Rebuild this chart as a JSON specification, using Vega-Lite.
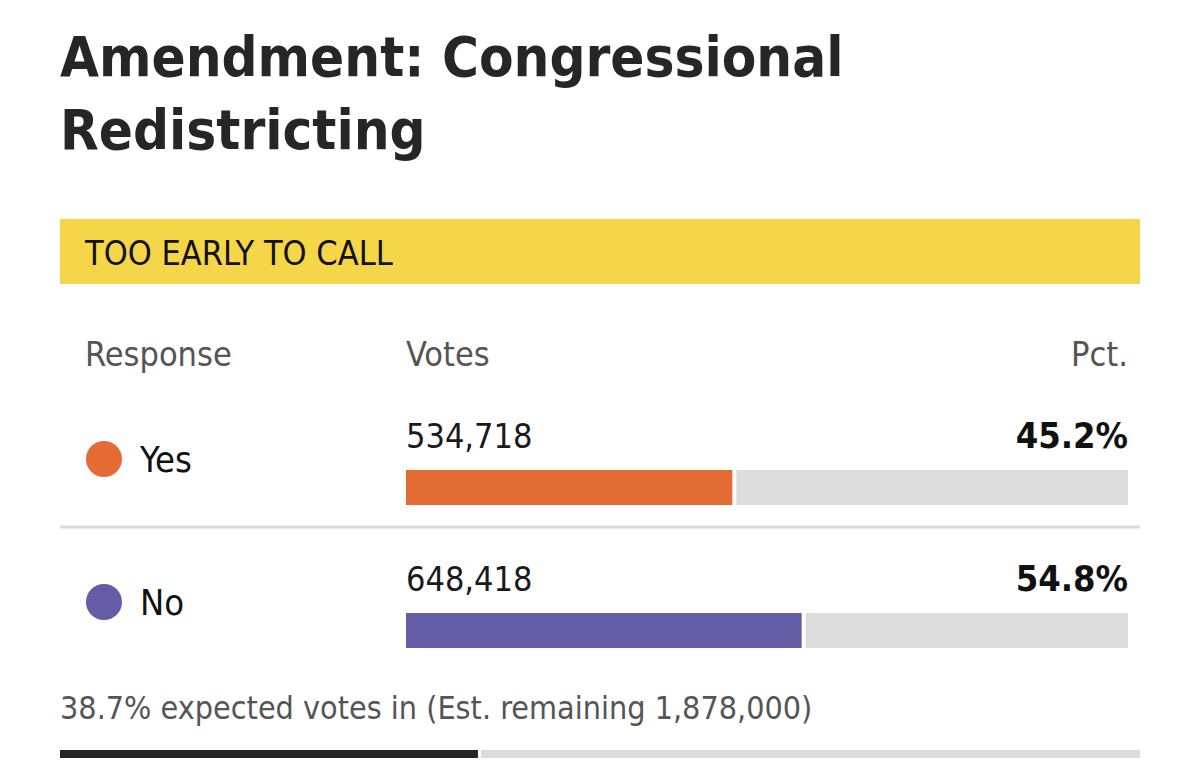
{
  "$schema": "https://vega.github.io/schema/vega-lite/v6.json",
  "padding": {"left": 60, "right": 60, "top": 30, "bottom": 20},
  "background": "white",
  "spacing": 0,
  "title": {
    "text": ["Amendment: Congressional", "Redistricting"],
    "anchor": "start",
    "frame": "group",
    "font": "Noto Sans ExtraCondensed, Liberation Sans Narrow, DejaVu Sans Condensed, sans-serif",
    "fontSize": 56,
    "fontWeight": "bold",
    "color": "#262626",
    "lineHeight": 73.5,
    "baseline": "alphabetic",
    "offset": 14
  },
  "datasets": {
    "status": [{"status": "TOO EARLY TO CALL"}],
    "columns": [{"label": "Response"}, {"label": "Votes"}, {"label": "Pct."}],
    "results": [
      {"response": "Yes", "votes": 534718, "pct": 45.2},
      {"response": "No", "votes": 648418, "pct": 54.8}
    ],
    "turnout": [{"expected_in": 38.7, "remaining": 1878000}]
  },
  "config": {
    "view": {"stroke": null},
    "text": {"font": "Noto Sans ExtraCondensed, Liberation Sans Narrow, DejaVu Sans Condensed, sans-serif", "baseline": "alphabetic"}
  },
  "vconcat": [
    {
      "width": 1080,
      "height": 65,
      "data": {"name": "status"},
      "layer": [
        {
          "mark": {"type": "rect", "color": "#f6d649"},
          "encoding": {"x": {"value": 0}, "x2": {"value": "width"}, "y": {"value": 0}, "y2": {"value": "height"}}
        },
        {
          "mark": {"type": "text", "align": "left", "fontSize": 34, "color": "#111111", "dy": 13.5},
          "encoding": {
            "x": {"datum": -44.46, "type": "quantitative", "scale": {"domain": [-47.92, 101.66], "nice": false, "zero": false}, "axis": null},
            "text": {"field": "status", "type": "nominal"}
          }
        }
      ]
    },
    {
      "width": 1080,
      "height": 100,
      "data": {"name": "columns"},
      "layer": [
        {
          "transform": [{"filter": "datum.label === 'Response'"}],
          "mark": {"type": "text", "align": "left", "fontSize": 34, "color": "#555555", "dy": 31.9},
          "encoding": {
            "x": {"datum": -44.46, "type": "quantitative", "scale": {"domain": [-47.92, 101.66], "nice": false, "zero": false}, "axis": null},
            "text": {"field": "label", "type": "nominal"}
          }
        },
        {
          "transform": [{"filter": "datum.label === 'Votes'"}],
          "mark": {"type": "text", "align": "left", "fontSize": 34, "color": "#555555", "dy": 31.9},
          "encoding": {
            "x": {"datum": 0, "type": "quantitative", "axis": null},
            "text": {"field": "label", "type": "nominal"}
          }
        },
        {
          "transform": [{"filter": "datum.label === 'Pct.'"}],
          "mark": {"type": "text", "align": "right", "fontSize": 34, "color": "#555555", "dy": 31.9},
          "encoding": {
            "x": {"datum": 100, "type": "quantitative", "axis": null},
            "text": {"field": "label", "type": "nominal"}
          }
        }
      ]
    },
    {
      "width": 1080,
      "height": 286,
      "data": {"name": "results"},
      "transform": [{"calculate": "format(datum.pct, '.1f') + '%'", "as": "pct_label"}],
      "layer": [
        {
          "mark": {"type": "bar", "color": "#dcdcdc", "height": 35, "yOffset": 32, "xOffset": 4},
          "encoding": {
            "y": {"field": "response", "type": "nominal", "sort": ["Yes", "No"], "scale": {"paddingInner": 0, "paddingOuter": 0}, "axis": null},
            "x": {"field": "pct", "type": "quantitative", "scale": {"domain": [-47.92, 101.66], "nice": false, "zero": false}, "axis": null},
            "x2": {"datum": 100}
          }
        },
        {
          "mark": {"type": "bar", "height": 35, "yOffset": 32},
          "encoding": {
            "y": {"field": "response", "type": "nominal", "sort": ["Yes", "No"], "axis": null},
            "x": {"field": "pct", "type": "quantitative", "axis": null},
            "x2": {"datum": 0},
            "color": {"field": "response", "type": "nominal", "scale": {"domain": ["Yes", "No"], "range": ["#e46b34", "#645ca4"]}, "legend": null}
          }
        },
        {
          "mark": {"type": "point", "filled": true, "size": 1300, "opacity": 1, "yOffset": 3.5},
          "encoding": {
            "y": {"field": "response", "type": "nominal", "sort": ["Yes", "No"], "axis": null},
            "x": {"datum": -41.83, "type": "quantitative", "axis": null},
            "color": {"field": "response", "type": "nominal", "legend": null}
          }
        },
        {
          "mark": {"type": "text", "align": "left", "fontSize": 36, "color": "#111111", "dy": 16.6},
          "encoding": {
            "y": {"field": "response", "type": "nominal", "sort": ["Yes", "No"], "axis": null},
            "x": {"datum": -36.84, "type": "quantitative", "axis": null},
            "text": {"field": "response", "type": "nominal"}
          }
        },
        {
          "mark": {"type": "text", "align": "left", "fontSize": 34, "color": "#1a1a1a", "dy": -7.1},
          "encoding": {
            "y": {"field": "response", "type": "nominal", "sort": ["Yes", "No"], "axis": null},
            "x": {"datum": 0, "type": "quantitative", "axis": null},
            "text": {"field": "votes", "type": "quantitative", "format": ","}
          }
        },
        {
          "mark": {"type": "text", "align": "right", "fontSize": 36, "fontWeight": "bold", "color": "#111111", "dy": -7.4},
          "encoding": {
            "y": {"field": "response", "type": "nominal", "sort": ["Yes", "No"], "axis": null},
            "x": {"datum": 100, "type": "quantitative", "axis": null},
            "text": {"field": "pct_label", "type": "nominal"}
          }
        },
        {
          "transform": [{"filter": "datum.response === 'Yes'"}],
          "mark": {"type": "bar", "color": "#dadada", "height": 3, "yOffset": 71.5},
          "encoding": {
            "y": {"field": "response", "type": "nominal", "sort": ["Yes", "No"], "axis": null},
            "x": {"value": 0},
            "x2": {"value": "width"}
          }
        }
      ]
    },
    {
      "width": 1080,
      "height": 80,
      "data": {"name": "turnout"},
      "transform": [
        {"calculate": "format(datum.expected_in, '.1f') + '% expected votes in (Est. remaining ' + format(datum.remaining, ',') + ')'", "as": "turnout_label"}
      ],
      "mark": {"type": "text", "align": "left", "fontSize": 32, "color": "#555555", "dy": 9.3},
      "encoding": {
        "x": {"datum": 0, "type": "quantitative", "scale": {"domain": [0, 100], "nice": false}, "axis": null},
        "text": {"field": "turnout_label", "type": "nominal"}
      }
    },
    {
      "width": 1080,
      "height": 8,
      "data": {"name": "turnout"},
      "layer": [
        {
          "mark": {"type": "rect", "color": "#dcdcdc", "xOffset": 3},
          "encoding": {
            "x": {"field": "expected_in", "type": "quantitative", "scale": {"domain": [0, 100], "nice": false}, "axis": null},
            "x2": {"datum": 100},
            "y": {"value": 0},
            "y2": {"value": "height"}
          }
        },
        {
          "mark": {"type": "rect", "color": "#262626"},
          "encoding": {
            "x": {"field": "expected_in", "type": "quantitative", "axis": null},
            "x2": {"datum": 0},
            "y": {"value": 0},
            "y2": {"value": "height"}
          }
        }
      ]
    }
  ]
}
